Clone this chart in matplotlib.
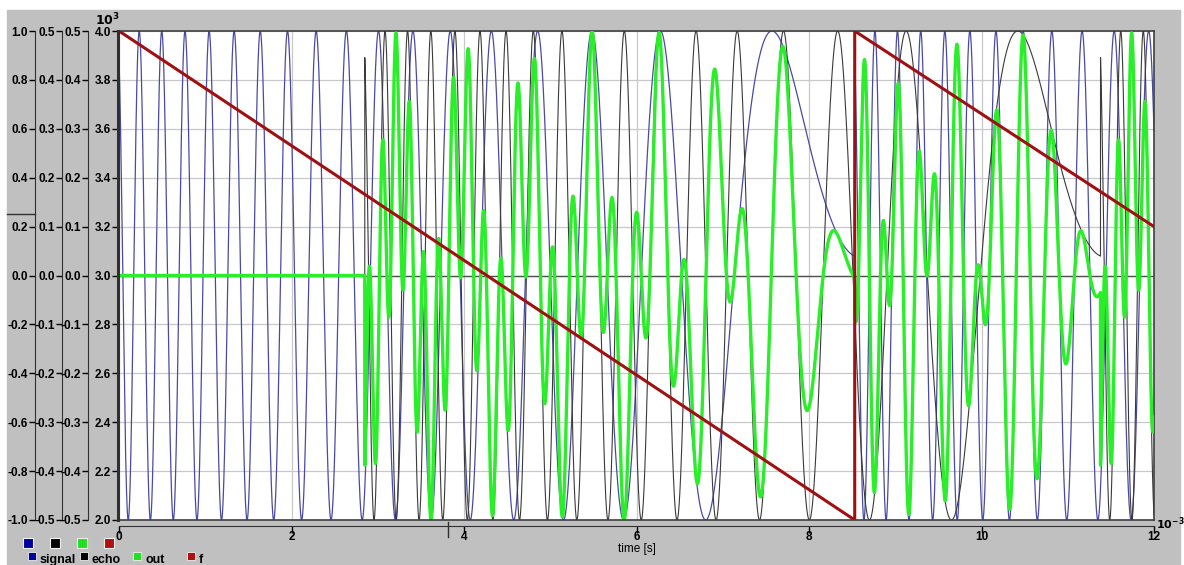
import numpy as np
import matplotlib.pyplot as plt
from matplotlib.patches import Rectangle
from matplotlib.lines import Line2D

plt.rcParams['font.family'] = ['Liberation Sans', 'DejaVu Sans']
plt.rcParams['font.weight'] = 'bold'
plt.rcParams['mathtext.default'] = 'bf'

# frequency trace f (time in ms, Hz)
f_time = [0.0, 8.53, 8.53, 12.0]
f_value = [4000, 2000, 4000, 3200]

# sweep settings read from the blue / black traces
sweep_start = np.array([0.0, 8.53])  # ms, f jumps back to 4 kHz
sweep_len = 8.53                     # ms
sig_f_start = 4000                   # Hz
sig_f_end = 2012                     # Hz, fitted to the slow hump at 7.5 ms
echo_delay = 2.85                    # ms, where out leaves zero
echo_gain = 0.5
phase_offset = -0.175                # cycles, signal starts near 0.9
t_end = 12.0

x_ticks = [0, 2, 4, 6, 8, 10, 12]

W, H = 1184, 565


def px(x, y):
    return x / W, 1 - y / H


def chirp(tt):
    """ sin with phase 2*pi*f(t)*t, f restarting at every sweep """
    idx = np.searchsorted(sweep_start, tt, side='right') - 1
    tau = tt - sweep_start[np.clip(idx, 0, None)]
    f = sig_f_start - (sig_f_start - sig_f_end) * tau / sweep_len
    out = -np.sin(2 * np.pi * (f * tau / 1000.0 + phase_offset))
    return np.where(tt < 0, 0.0, out)


t = np.linspace(0, t_end, 24001)
signal = chirp(t)
echo = echo_gain * chirp(t - echo_delay)
out = signal * echo

fig = plt.figure(figsize=(W / 100, H / 100), dpi=100)
fig.patch.set_facecolor('white')
fig.add_artist(Rectangle(px(7, 565), (1180 - 7) / W, (565 - 10) / H,
                         transform=fig.transFigure, color='#c0c0c0',
                         zorder=-10))

left, right, top, bottom = 119, 1154, 31, 520
ax = fig.add_axes([left / W, 1 - bottom / H, (right - left) / W,
                   (bottom - top) / H])
ax.patch.set_facecolor('white')
ax.set_xlim(0, t_end)
ax.set_ylim(-1, 1)
ax.grid(True, color='#c8c8c8', lw=0.9)
ax.set_axisbelow(True)
ax.axhline(0, color='#505050', lw=1.0, zorder=0.8)
ax.plot(t, signal, color='#4a4aa4', lw=0.9)


def style_left(a, pos_px, lo, hi, step, fmt):
    a.set_ylim(lo, hi)
    ticks = np.round(np.arange(lo, hi + step / 2, step), 4)
    a.set_yticks(ticks)
    a.set_yticklabels([fmt(v) for v in ticks])
    a.yaxis.tick_left()
    a.spines['left'].set_visible(True)
    a.spines['left'].set_position(('axes', (pos_px - left) / (right - left)))
    a.spines['left'].set_color('#303030')
    a.tick_params(axis='y', direction='out', length=4, width=1,
                  labelsize=8.5, pad=1, colors='black')


style_left(ax, 35, -1.0, 1.0, 0.2, lambda v: f'{v + 0.0:.1f}')
for s in ['top', 'right']:
    ax.spines[s].set_color('#404040')
    ax.spines[s].set_linewidth(1.2)
ax.spines['bottom'].set_position(('outward', 4))
ax.spines['bottom'].set_color('#303030')
ax.set_xticks(x_ticks)
ax.set_xticklabels([str(v) for v in x_ticks])
ax.tick_params(axis='x', direction='out', length=5, width=1, labelsize=8.5,
               pad=-1)
ax.set_xlabel('time [s]', fontsize=8.5, labelpad=0)

ax_echo = ax.twinx()
ax_out = ax.twinx()
ax_f = ax.twinx()
for a in (ax_echo, ax_out, ax_f):
    for s in ['top', 'right', 'bottom']:
        a.spines[s].set_visible(False)

style_left(ax_echo, 62, -0.5, 0.5, 0.1, lambda v: f'{v + 0.0:.1f}')
style_left(ax_out, 88, -0.5, 0.5, 0.1, lambda v: f'{v + 0.0:.1f}')
style_left(ax_f, 118, 2000, 4000, 200, lambda v: f'{v / 1000:.1f}')
ax_f.spines['left'].set_linewidth(2.2)

ax_echo.plot(t, echo, color='#3a3a3a', lw=0.8)
ax_out.plot(t, out, color='#2aee2a', lw=2.4)
ax_f.plot(f_time, f_value, color='#a01010', lw=2.2)
# bottom edge of the plot frame
ax_f.plot([0, 1], [0, 0], transform=ax_f.transAxes, color='#404040',
          lw=1.2, clip_on=False)

fig.text(*px(95, 25), r'$10^{3}$', fontsize=9, va='baseline')
fig.text(*px(1156, 529), r'$10^{-3}$', fontsize=8, va='baseline')

# small marks on the frame
fig.add_artist(Line2D([7 / W, 35 / W], [1 - 214 / H] * 2, color='#303030',
                      lw=1))
fig.add_artist(Line2D([448 / W] * 2, [1 - 522 / H, 1 - 537 / H],
                      color='#303030', lw=1))

# legend
colors = ['#0000a0', '#000000', '#20e020', '#b01010']
names = ['signal', 'echo', 'out', 'f']
for cx, c in zip([28, 55, 82, 109], colors):
    fig.add_artist(Rectangle(px(cx - 5, 548), 10 / W, 10 / H,
                             transform=fig.transFigure, facecolor=c,
                             edgecolor='#f0f0f0', lw=0.8))
for cx, tx, c, n in zip([32, 84, 137, 191], [40, 92, 146, 199], colors,
                        names):
    fig.add_artist(Rectangle(px(cx - 4, 560), 8 / W, 8 / H,
                             transform=fig.transFigure, facecolor=c,
                             edgecolor='#f0f0f0', lw=0.6))
    fig.text(*px(tx, 563), n, fontsize=9, va='baseline')

fig.savefig('out.png', dpi=100)
